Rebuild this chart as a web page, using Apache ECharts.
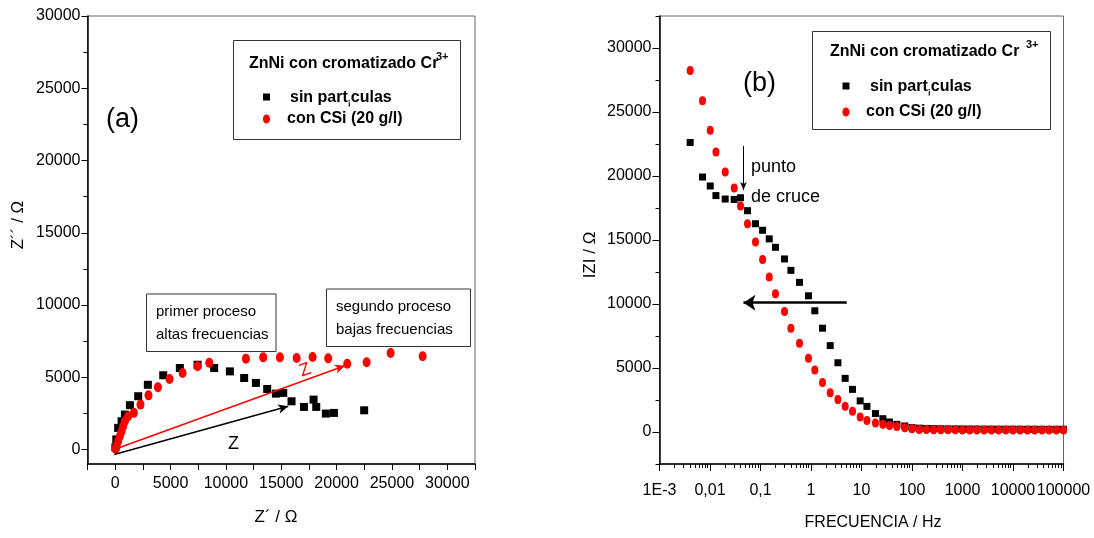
<!DOCTYPE html>
<html><head><meta charset="utf-8">
<script src="https://cdn.jsdelivr.net/npm/echarts@6/dist/echarts.min.js"></script>
<style>html,body{margin:0;padding:0;background:#fff}#c{width:1094px;height:538px}</style>
</head><body><div id="c"></div>
<script>
// ---------- data ----------
const seriesNames = ['sin partículas', 'con CSi (20 g/l)'];

// (a) Nyquist: Z' (real) and Z'' (imag), ohm
const nyqSinRe = [20, 100, 270, 580, 880, 1330, 2080, 2950, 4340, 5840, 7440, 8940, 10360, 11650, 12710, 13730, 14520, 15180, 15930, 17050, 17920, 18160, 19030, 19760, 22490];
const nyqSinIm = [150, 700, 1500, 1960, 2420, 3070, 3690, 4480, 5140, 5640, 5870, 5640, 5410, 4950, 4610, 4190, 3870, 3920, 3340, 2950, 3455, 2950, 2490, 2535, 2716];
const nyqCsiRe = [30, 130, 270, 420, 580, 720, 880, 1170, 1690, 2290, 3010, 3860, 4910, 6090, 7440, 8500, 11810, 13370, 14880, 16390, 17830, 19240, 20960, 22710, 24880, 27770];
const nyqCsiIm = [60, 230, 570, 920, 1270, 1610, 1960, 2300, 2540, 3110, 3750, 4310, 4880, 5300, 5760, 6010, 6290, 6380, 6380, 6340, 6400, 6310, 5940, 6040, 6680, 6450];

// (b) Bode modulus |Z| (ohm) vs frequency (Hz)
const freqHz = [0.00405, 0.0071, 0.0101, 0.0131, 0.02, 0.0301, 0.0402, 0.0553, 0.0796, 0.110,
  0.149, 0.198, 0.299, 0.400, 0.592, 0.891, 1.19, 1.69, 2.40, 3.41,
  4.75, 6.64, 9.42, 12.8, 18.9, 26.5, 35.8, 50.2, 71.9, 100,
  139, 193, 268, 373, 518, 720, 1000, 1389, 1931, 2683,
  3728, 5179, 7197, 10000, 13895, 19307, 26827, 37276, 51795, 71969, 100000];
const modZSin = [22620, 19920, 19220, 18470, 18200, 18170, 18300, 17290, 16270, 15760,
  15090, 14430, 13520, 12630, 11690, 10640, 9470, 8110, 6750, 5410,
  4190, 3330, 2430, 2000, 1440, 1040, 780, 600, 470, 340,
  300, 280, 260, 250, 245, 240, 235, 230, 230, 225,
  225, 220, 220, 220, 215, 215, 215, 210, 210, 210, 210];
const modZCsi = [28240, 25880, 23580, 21880, 20310, 19070, 17650, 16270, 14850, 13470,
  12110, 10800, 9410, 8110, 6930, 5760, 4840, 3870, 3060, 2540,
  2020, 1620, 1180, 890, 700, 600, 500, 420, 330, 260,
  200, 190, 180, 175, 170, 170, 165, 165, 165, 160,
  160, 160, 160, 160, 160, 155, 155, 155, 155, 155, 155];

// tick labels
const nyqXLabels = [0, 5000, 10000, 15000, 20000, 25000, 30000];
const nyqYLabels = [0, 5000, 10000, 15000, 20000, 25000, 30000];
const bodeYLabels = [0, 5000, 10000, 15000, 20000, 25000, 30000];
const freqTickLabels = ['1E-3', '0,01', '0,1', '1', '10', '100', '1000', '10000', '100000'];

// annotation arrows (data space)
const arrowZBlack = [[-90, -345], [15630, 2990]];
const arrowZRed = [[-90, 0], [20750, 5800]];
const arrowShift = [[5.1, 10100], [0.046, 10100]];
const arrowCruce = [[0.046, 22350], [0.046, 18900]];

// ---------- chart ----------
const FONT = '"Liberation Sans", Arial, sans-serif';
const chart = echarts.init(document.getElementById('c'), null, {renderer: 'canvas'});

const nyqXTicks = []; for (let v = -2500; v <= 32500; v += 2500) nyqXTicks.push(v);
const nyqYMinor = []; for (let v = 2500; v <= 27500; v += 5000) nyqYMinor.push(v);
const bodeYMinor = []; for (let v = -2500; v <= 32500; v += 5000) bodeYMinor.push(v);
const logMinor = [];
for (let n = -3; n < 5; n++) for (let k = 2; k <= 9; k++) logMinor.push(Math.log10(k) + n);

const axisLineStyle = {show: true, onZero: false, lineStyle: {color: '#000', width: 1.5}};
const hiddenLine = {show: false, onZero: false};
const lblStyle = {color: '#000', fontFamily: FONT, fontSize: 16, formatter: v => String(v)};

function txt(x, y, text, extra) {
  return Object.assign({type: 'text', x: x, y: y, z: 100,
    style: Object.assign({text: text, fill: '#000', fontFamily: FONT, fontSize: 16,
      align: 'left', verticalAlign: 'middle'}, (extra && extra.style) || {})},
    extra ? {rotation: extra.rotation || 0} : {});
}
function box(x1, y1, x2, y2) {
  return {type: 'rect', z: 90, shape: {x: x1, y: y1, width: x2 - x1, height: y2 - y1},
    style: {fill: '#fff', stroke: '#333', lineWidth: 1}};
}
function legendGroup(bx1, by1, bx2, by2, tx, ty, sx, sy, e1y, e2y, mx, t1x, t2x) {
  const bold = {fontWeight: 'bold', fontSize: 16};
  return [
    box(bx1, by1, bx2, by2),
    txt(tx, ty, 'ZnNi con cromatizado Cr', {style: bold}),
    txt(sx, sy, '3+', {style: {fontWeight: 'bold', fontSize: 11}}),
    {type: 'rect', z: 100, shape: {x: mx - 3.5, y: e1y - 3.5, width: 7, height: 7}, style: {fill: '#000'}},
    txt(t1x, e1y + 1, 'sin part{s|¡}culas', {style: {fontWeight: 'bold', fontSize: 16,
      rich: {s: {fontWeight: 'bold', fontSize: 9, padding: [10, 0, 0, 0], fill: '#000', fontFamily: FONT}}}}),
    {type: 'ellipse', z: 100, shape: {cx: mx, cy: e2y, rx: 3.6, ry: 4.5}, style: {fill: '#f00'}},
    txt(t2x, e2y, 'con CSi (20 g/l)', {style: bold})
  ];
}

const option = {
  animation: false,
  backgroundColor: '#fff',
  grid: [
    {left: 87.5, top: 16, width: 387.5, height: 448, show: true, borderColor: '#666', borderWidth: 1, containLabel: false},
    {left: 659.5, top: 16, width: 404, height: 448, show: true, borderColor: '#666', borderWidth: 1, containLabel: false}
  ],
  xAxis: [
    {gridIndex: 0, type: 'value', min: -2500, max: 32500, position: 'bottom', axisLine: axisLineStyle, splitLine: {show: false},
      axisTick: {show: true, customValues: nyqXTicks, length: 6, lineStyle: {color: '#000'}},
      axisLabel: Object.assign({customValues: nyqXLabels, margin: 12}, lblStyle)},
    {gridIndex: 1, type: 'log', logBase: 10, min: 0.001, max: 100000, position: 'bottom', axisLine: axisLineStyle, splitLine: {show: false},
      axisTick: {show: true, length: 7, lineStyle: {color: '#000'}},
      axisLabel: Object.assign({}, lblStyle, {margin: 19, showMinLabel: true, showMaxLabel: true, hideOverlap: false,
        formatter: v => freqTickLabels[Math.round(Math.log10(v)) + 3]})},
    {gridIndex: 1, type: 'value', min: -3, max: 5, position: 'bottom', offset: 0,
      axisLine: hiddenLine, splitLine: {show: false}, axisLabel: {show: false},
      axisTick: {show: true, customValues: logMinor, length: 4, lineStyle: {color: '#000'}}}
  ],
  yAxis: [
    {gridIndex: 0, type: 'value', min: -1000, max: 30000, position: 'left', axisLine: axisLineStyle, splitLine: {show: false},
      axisTick: {show: true, customValues: nyqYLabels, length: 6, lineStyle: {color: '#000'}},
      axisLabel: Object.assign({customValues: nyqYLabels, margin: 7}, lblStyle)},
    {gridIndex: 0, type: 'value', min: -1000, max: 30000, position: 'left', offset: 0,
      axisLine: hiddenLine, splitLine: {show: false}, axisLabel: {show: false},
      axisTick: {show: true, customValues: nyqYMinor, length: 4, lineStyle: {color: '#000'}}},
    {gridIndex: 1, type: 'value', min: -2500, max: 32500, position: 'left', axisLine: axisLineStyle, splitLine: {show: false},
      axisTick: {show: true, customValues: bodeYLabels, length: 7, lineStyle: {color: '#000'}},
      axisLabel: Object.assign({customValues: bodeYLabels, margin: 8}, lblStyle)},
    {gridIndex: 1, type: 'value', min: -2500, max: 32500, position: 'left', offset: 0,
      axisLine: hiddenLine, splitLine: {show: false}, axisLabel: {show: false},
      axisTick: {show: true, customValues: bodeYMinor, length: 4, lineStyle: {color: '#000'}}}
  ],
  series: [
    {name: seriesNames[0], type: 'scatter', xAxisIndex: 0, yAxisIndex: 0, symbol: 'rect', symbolSize: 8,
      itemStyle: {color: '#000', opacity: 1}, data: nyqSinRe.map((x, i) => [x, nyqSinIm[i]]),
      markLine: {silent: true, symbol: ['none', 'arrow'], symbolSize: [7, 10], label: {show: false},
        lineStyle: {color: '#000', type: 'solid', width: 1.5},
        data: [[{coord: arrowZBlack[0]}, {coord: arrowZBlack[1]}]]}},
    {name: seriesNames[1], type: 'scatter', xAxisIndex: 0, yAxisIndex: 0, symbol: 'circle', symbolSize: [8, 10],
      itemStyle: {color: '#f00', opacity: 1}, data: nyqCsiRe.map((x, i) => [x, nyqCsiIm[i]]),
      markLine: {silent: true, symbol: ['none', 'arrow'], symbolSize: [7, 10], label: {show: false},
        lineStyle: {color: '#f00', type: 'solid', width: 1.5},
        data: [[{coord: arrowZRed[0]}, {coord: arrowZRed[1]}]]}},
    {name: seriesNames[0], type: 'scatter', xAxisIndex: 1, yAxisIndex: 2, symbol: 'rect', symbolSize: 7,
      itemStyle: {color: '#000', opacity: 1}, data: freqHz.map((f, i) => [f, modZSin[i]]),
      markLine: {silent: true, symbol: ['none', 'arrow'], label: {show: false},
        data: [
          [{coord: arrowShift[0], lineStyle: {color: '#000', type: 'solid', width: 2.5}, symbolSize: [12, 12]},
           {coord: arrowShift[1], symbolSize: [12, 12]}],
          [{coord: arrowCruce[0], lineStyle: {color: '#000', type: 'solid', width: 1}, symbolSize: [5, 8]},
           {coord: arrowCruce[1], symbolSize: [5, 8]}]
        ]}},
    {name: seriesNames[1], type: 'scatter', xAxisIndex: 1, yAxisIndex: 2, symbol: 'circle', symbolSize: [7, 9],
      itemStyle: {color: '#f00', opacity: 1}, data: freqHz.map((f, i) => [f, modZCsi[i]])}
  ],
  graphic: [
    // axis titles
    txt(18, 225, 'Z´´ / Ω', {rotation: Math.PI / 2, style: {align: 'center', fontSize: 17}}),
    txt(276, 517, 'Z´ / Ω', {style: {align: 'center', fontSize: 17}}),
    txt(590, 255, 'IZI / Ω', {rotation: Math.PI / 2, style: {align: 'center', fontSize: 17}}),
    txt(873, 523, 'FRECUENCIA / Hz', {style: {align: 'center', fontSize: 16}}),
    // panel labels
    txt(106, 120, '(a)', {style: {fontSize: 27}}),
    txt(743, 84, '(b)', {style: {fontSize: 27}}),
    // annotation boxes
    box(146.5, 294, 276, 351.5),
    txt(156, 312, 'primer proceso', {style: {fontSize: 15}}),
    txt(156, 335, 'altas frecuencias', {style: {fontSize: 15}}),
    box(326.5, 289, 470.5, 346.5),
    txt(336, 307, 'segundo proceso', {style: {fontSize: 15}}),
    txt(336, 330, 'bajas frecuencias', {style: {fontSize: 15}}),
    txt(228, 444, 'Z', {style: {fontSize: 18}}),
    txt(300, 372, 'Z', {rotation: 20 * Math.PI / 180, style: {fontSize: 18, fill: '#f00'}}),
    txt(751, 167, 'punto', {style: {fontSize: 18}}),
    txt(751, 197, 'de cruce', {style: {fontSize: 18}})
  ].concat(
    legendGroup(233.5, 40.5, 460.5, 139.5, 249, 64, 436, 57, 97, 119, 266.5, 290, 287),
    legendGroup(812.5, 31.5, 1050.5, 129.5, 830, 52, 1026, 45, 86, 112, 846, 870, 866)
  )
};
chart.setOption(option);
</script></body></html>
